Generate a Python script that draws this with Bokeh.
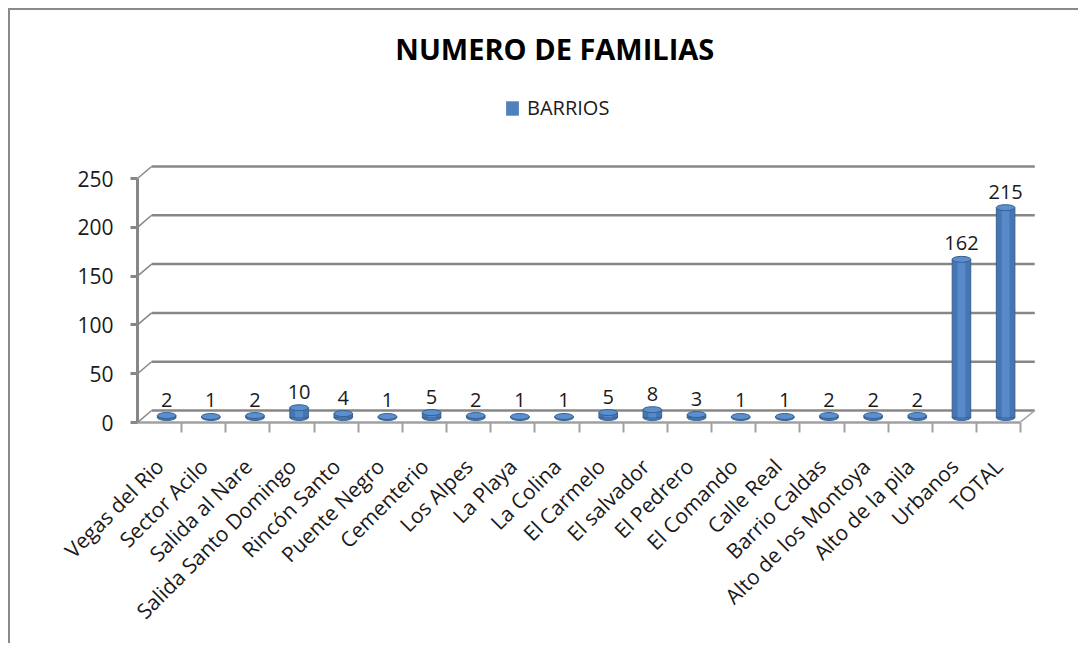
import math
from bokeh.plotting import figure
from bokeh.models import FixedTicker, Range1d, Label, Legend, LegendItem
from bokeh.core.properties import value
from bokeh.embed import file_html
from bokeh.resources import INLINE

categories = ["Vegas del Rio", "Sector Acilo", "Salida al Nare", "Salida Santo Domingo",
              "Rincón Santo", "Puente Negro", "Cementerio", "Los Alpes", "La Playa",
              "La Colina", "El Carmelo", "El salvador", "El Pedrero", "El Comando",
              "Calle Real", "Barrio Caldas", "Alto de los Montoya", "Alto de la pila",
              "Urbanos", "TOTAL"]
familias = [2, 1, 2, 10, 4, 1, 5, 2, 1, 1, 5, 8, 3, 1, 1, 2, 2, 2, 162, 215]
y_ticks = [0, 50, 100, 150, 200, 250]
title_text = "NUMERO DE FAMILIAS"
series_name = "BARRIOS"

FONT = "Open Sans"
GRID = "#878787"
DX = 0.32   # depth offset (category units)
DY = 12.3   # depth offset (value units)

n = len(categories)
p = figure(width=1070, height=635, output_backend="svg", toolbar_location=None,
           x_range=Range1d(-0.5, 19.95), y_range=Range1d(0, 411.9),
           min_border_left=127, min_border_top=10, min_border_right=40, min_border_bottom=223)
p.styles = {"border-left": "2px solid #8a8a8a", "border-top": "2px solid #8a8a8a",
            "margin-left": "8px", "margin-top": "8px"}
p.outline_line_color = None
p.grid.visible = False

# back wall gridlines + side connectors
for v in y_ticks:
    p.segment(x0=[-0.5 + DX], y0=[v + DY], x1=[n - 0.5 + DX], y1=[v + DY],
              line_color=GRID, line_width=2.5)
    p.segment(x0=[-0.5], y0=[v], x1=[-0.5 + DX], y1=[v + DY], line_color=GRID, line_width=1.5)
# floor right edge
p.segment(x0=[n - 0.5], y0=[0.6], x1=[n - 0.5 + DX], y1=[DY], line_color="#a0a0a0", line_width=1.5)

# cylinders
xs = [i + DX / 2 for i in range(n)]
base = DY / 2 - 1
tops = [base + f for f in familias]
BW = 0.42
p.ellipse(x=xs, y=[base] * n, width=BW, height=6, height_units="screen",
          fill_color="#4676b2", line_color="#35618f")
p.vbar(x=xs, bottom=base, top=tops, width=BW, fill_color="#4676b2",
       line_color="#35618f", line_width=1)
p.vbar(x=xs, bottom=base, top=tops, width=0.18, fill_color="#5889c8", line_color=None)
p.ellipse(x=xs, y=tops, width=BW, height=6, height_units="screen",
          fill_color="#5b8fd0", line_color="#35618f")

# legend swatch renderer (placed off-screen, only used by the legend)
swatch = p.rect(x=[-100], y=[-100], width=1, height=1, fill_color="#4f81bd", line_color=None)

# data labels
p.text(x=xs, y=tops, text=[str(f) for f in familias], text_align="center",
       text_baseline="bottom", y_offset=-9, text_font=value(FONT), text_font_size="20px",
       text_color="#1a1a1a")

# axes
p.xaxis.ticker = FixedTicker(ticks=list(range(n)), minor_ticks=[i + 0.5 for i in range(n)])
p.xaxis.major_label_overrides = {i: c for i, c in enumerate(categories)}
p.xaxis.major_label_orientation = math.pi / 4
p.xaxis.major_tick_line_color = None
p.xaxis.major_tick_out = 0
p.xaxis.minor_tick_out = 10
p.xaxis.minor_tick_in = 0
p.xaxis.minor_tick_line_color = "#a0a0a0"
p.xaxis.minor_tick_line_width = 2
p.xaxis.axis_line_color = "#a0a0a0"
p.xaxis.axis_line_width = 2.5
p.xaxis.bounds = (-0.5, n - 0.5)
p.xaxis.major_label_standoff = 30
p.xaxis.major_label_text_font = FONT
p.xaxis.major_label_text_font_size = "21px"
p.xaxis.major_label_text_color = "#1a1a1a"

p.yaxis.ticker = FixedTicker(ticks=y_ticks)
p.yaxis.bounds = (0, 250)
p.yaxis.axis_line_color = GRID
p.yaxis.axis_line_width = 3
p.yaxis.major_tick_line_color = GRID
p.yaxis.major_tick_line_width = 3
p.yaxis.major_tick_out = 7
p.yaxis.major_tick_in = 0
p.yaxis.minor_tick_line_color = None
p.yaxis.major_label_standoff = 17
p.yaxis.major_label_text_font = FONT
p.yaxis.major_label_text_font_size = "21px"
p.yaxis.major_label_text_color = "#1a1a1a"

# title
p.add_layout(Label(x=8.95, y=383, text=title_text, text_align="center", text_baseline="middle",
                   text_font=FONT, text_font_size="29px", text_font_style="bold",
                   text_color="#000000"))

legend = Legend(items=[LegendItem(label=series_name, renderers=[swatch])], location=(367, 301),
                orientation="horizontal", border_line_color=None, background_fill_alpha=0,
                label_text_font=FONT, label_text_font_size="20px", glyph_width=16,
                glyph_height=18, padding=0, margin=0, label_standoff=7,
                label_text_color="#1a1a1a")
p.add_layout(legend, "center")

open("out.html", "w").write(file_html(p, INLINE))
